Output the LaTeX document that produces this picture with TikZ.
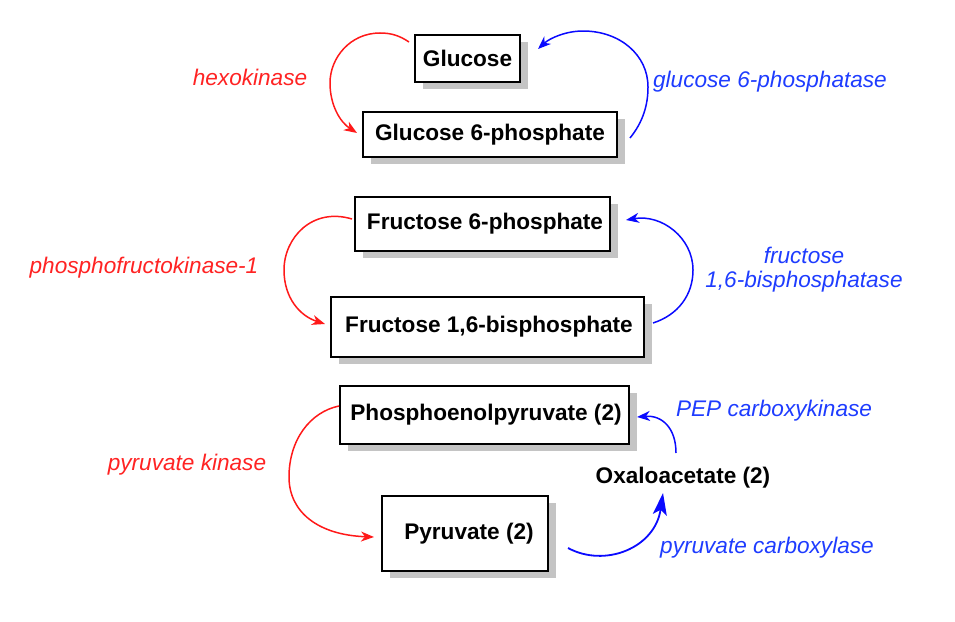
\documentclass[tikz,border=0pt]{standalone}
\usepackage{fontspec}
\setmainfont{Liberation Sans}
\usetikzlibrary{arrows.meta,shadows}
\definecolor{arrred}{RGB}{255,25,25}
\definecolor{arrblue}{RGB}{10,10,255}
\definecolor{lblred}{RGB}{255,35,35}
\definecolor{lblblue}{RGB}{30,60,255}
\definecolor{shadowgray}{RGB}{196,196,196}
\tikzset{
  box/.style={draw=black, line width=1.6pt, fill=white, inner sep=0pt,
    font=\fontsize{22.6}{27}\selectfont\bfseries,
    general shadow={fill=shadowgray, shadow xshift=8pt, shadow yshift=-7pt}},
  plain/.style={inner sep=0pt, font=\fontsize{22.6}{27}\selectfont\bfseries},
  lbl/.style={inner sep=0pt, font=\fontsize{22.6}{24}\selectfont\itshape, align=center},
  redarr/.style={draw=arrred, line width=1.5pt, -{Stealth[length=13pt,width=10pt,inset=4pt]}},
  bluearr/.style={draw=arrblue, line width=1.5pt, -{Stealth[length=13pt,width=10pt,inset=4pt]}},
  bigbluearr/.style={draw=arrblue, line width=1.8pt, -{Stealth[length=22pt,width=14pt,inset=5pt]}},
}
\begin{document}
\begin{tikzpicture}[x=1pt,y=-1pt]
\useasboundingbox (0,0) rectangle (955,621);
% boxes
\node[box, minimum width=105pt, minimum height=47pt] (glc) at (467.5,58.5) {Glucose};
\node[box, minimum width=254pt, minimum height=45pt] (g6p) at (490,134.5) {Glucose 6-phosphate};
\node[box, minimum width=255pt, minimum height=54pt] (f6p) at (482.5,224) {\hspace*{5pt}Fructose 6-phosphate};
\node[box, minimum width=313pt, minimum height=60pt] (fbp) at (487.5,327) {\hspace*{3pt}Fructose 1,6-bisphosphate};
\node[box, minimum width=289pt, minimum height=58pt] (pep) at (484.5,415) {\hspace*{3pt}Phosphoenolpyruvate (2)};
\node[box, minimum width=166pt, minimum height=75pt] (pyr) at (465,533.5) {\hspace*{8pt}Pyruvate (2)};
\node[plain] (oaa) at (683,478) {Oxaloacetate (2)};
% labels
\node[lbl, text=lblred] (hk) at (250,77) {hexokinase};
\node[lbl, text=lblblue] (g6pase) at (770,82) {glucose 6-phosphatase};
\node[lbl, text=lblred] (pfk) at (144,268) {phosphofructokinase-1};
\node[lbl, text=lblblue] (fbpase) at (804,270) {fructose\\1,6-bisphosphatase};
\node[lbl, text=lblblue] (pepck) at (774,411) {PEP carboxykinase};
\node[lbl, text=lblred] (pk) at (187,465) {pyruvate kinase};
\node[lbl, text=lblblue] (pc) at (767,548) {pyruvate carboxylase};
% connector endpoints
\coordinate (a1) at (409,42);  \coordinate (a2) at (357,133);
\coordinate (b1) at (630,138); \coordinate (b2) at (538,49);
\coordinate (c1) at (352,219); \coordinate (c2) at (325,324);
\coordinate (d1) at (653,323); \coordinate (d2) at (626,220);
\coordinate (e1) at (339,406); \coordinate (e2) at (374,537);
\coordinate (f1) at (676,453); \coordinate (f2) at (637,417);
\coordinate (g1) at (568,548); \coordinate (g2) at (663,493);
% arrows
\draw[redarr] (a1) .. controls (400,36) and (392,33) .. (380,33)
  .. controls (350,33) and (330,58) .. (330,83)
  .. controls (330,105) and (340,122) .. (a2);
\draw[bluearr] (b1) .. controls (643,122) and (648,105) .. (648,87)
  .. controls (648,55) and (620,31) .. (583,31)
  .. controls (566,31) and (550,38) .. (b2);
\draw[redarr] (c1) .. controls (312,207) and (284,238) .. (284,270)
  .. controls (284,298) and (300,316) .. (c2);
\draw[bluearr] (d1) .. controls (678,315) and (693,295) .. (693,270)
  .. controls (693,238) and (662,214) .. (d2);
\draw[redarr] (e1) .. controls (310,412) and (289,440) .. (289,477)
  .. controls (289,512) and (318,535) .. (e2);
\draw[bluearr] (f1) .. controls (676,428) and (662,415) .. (f2);
\draw[bigbluearr] (g1) .. controls (605,568) and (655,548) .. (g2);
\end{tikzpicture}
\end{document}
